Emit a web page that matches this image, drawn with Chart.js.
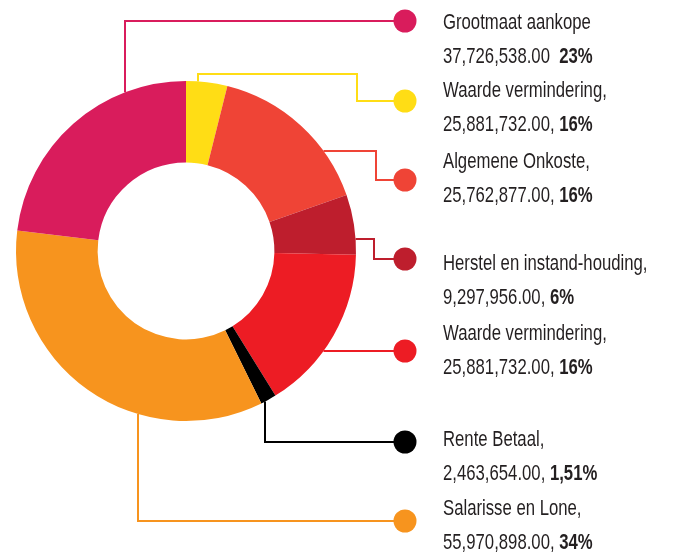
<!DOCTYPE html>
<html>
<head>
<meta charset="utf-8">
<script src="https://cdn.jsdelivr.net/npm/chart.js@4.4.1/dist/chart.umd.min.js"></script>
<style>
  html, body { margin: 0; padding: 0; background: #fff; }
  #wrap { width: 674px; height: 555px; }
</style>
</head>
<body>
<div id="wrap"><canvas id="donut" width="674" height="555"></canvas></div>
<script>
// Slices, clockwise from 12 o'clock
const labels = [
  "Waarde vermindering,",
  "Algemene Onkoste,",
  "Herstel en instand-houding,",
  "Waarde vermindering,",
  "Rente Betaal,",
  "Salarisse en Lone,",
  "Grootmaat aankope",
];
// amounts as printed next to each label
const amounts = [
  "25,881,732.00, ",
  "25,762,877.00, ",
  "9,297,956.00, ",
  "25,881,732.00, ",
  "2,463,654.00, ",
  "55,970,898.00, ",
  "37,726,538.00  ",
];
const percents = ["16%", "16%", "6%", "16%", "1,51%", "34%", "23%"];
// slice sizes as drawn in the picture (millions)
const sliceValues = [6.4, 25.76, 9.3, 25.88, 2.46, 55.97, 37.73];
const colors = ["#FFDD15", "#EF4436", "#BE1E2D", "#ED1C24", "#000000", "#F7941E", "#D91C5C"];

// leader layout: start on ring (vertical at x or horizontal at y), then turns
const leaders = [
  { x: 198, turns: [[198, 74], [357, 74], [357, 101]], dotY: 101, textY: 97 },
  { y: 151, turns: [[376, 151], [376, 180]], dotY: 180, textY: 168 },
  { y: 239, turns: [[374, 239], [374, 259]], dotY: 259, textY: 270 },
  { y: 351, turns: [], dotY: 351, textY: 340 },
  { x: 265, turns: [[265, 442]], dotY: 442, textY: 446 },
  { x: 138, turns: [[138, 521]], dotY: 521, textY: 515 },
  { x: 125, turns: [[125, 21]], dotY: 21, textY: 29 },
];

const FONT = '"Liberation Sans", Arial, sans-serif';
const SQUEEZE = 0.76; // fuente condensada simulada

const leaderPlugin = {
  id: "leaders",
  afterDraw(chart) {
    const ctx = chart.ctx;
    const arc = chart.getDatasetMeta(0).data[0];
    const cx = arc.x, cy = arc.y, r = arc.outerRadius;
    const dotX = 405, textX = 443;

    leaders.forEach((l, i) => {
      // punto de inicio sobre el borde exterior del anillo
      let sx, sy;
      if (l.x !== undefined) {
        sx = l.x;
        const dy = Math.sqrt(r * r - (l.x - cx) * (l.x - cx));
        const lastY = l.turns.length ? l.turns[0][1] : l.dotY;
        sy = lastY < cy ? cy - dy : cy + dy;
      } else {
        sy = l.y;
        sx = cx + Math.sqrt(r * r - (l.y - cy) * (l.y - cy));
      }
      ctx.save();
      ctx.strokeStyle = colors[i];
      ctx.lineWidth = 2;
      ctx.beginPath();
      ctx.moveTo(sx, sy);
      l.turns.forEach((p) => ctx.lineTo(p[0], p[1]));
      ctx.lineTo(dotX, l.dotY);
      ctx.stroke();

      ctx.fillStyle = colors[i];
      ctx.beginPath();
      ctx.arc(dotX, l.dotY, 11.5, 0, Math.PI * 2);
      ctx.fill();
      ctx.restore();

      // textos
      ctx.save();
      ctx.translate(textX, 0);
      ctx.scale(SQUEEZE, 1);
      ctx.fillStyle = "#231F20";
      ctx.textBaseline = "alphabetic";
      ctx.font = "22px " + FONT;
      ctx.fillText(labels[i], 0, l.textY);
      ctx.fillText(amounts[i], 0, l.textY + 34);
      const w = ctx.measureText(amounts[i]).width;
      ctx.font = "bold 22px " + FONT;
      ctx.fillText(percents[i], w, l.textY + 34);
      ctx.restore();
    });
  },
};

const ctx = document.getElementById("donut").getContext("2d");
new Chart(ctx, {
  type: "doughnut",
  data: {
    labels: labels,
    datasets: [
      {
        data: sliceValues,
        backgroundColor: colors,
        borderWidth: 0,
      },
    ],
  },
  options: {
    responsive: false,
    animation: false,
    cutout: "52%",
    layout: { padding: { left: 16, right: 318, top: 81, bottom: 134 } },
    plugins: {
      legend: { display: false },
      tooltip: { enabled: false },
    },
  },
  plugins: [leaderPlugin],
});
</script>
</body>
</html>
